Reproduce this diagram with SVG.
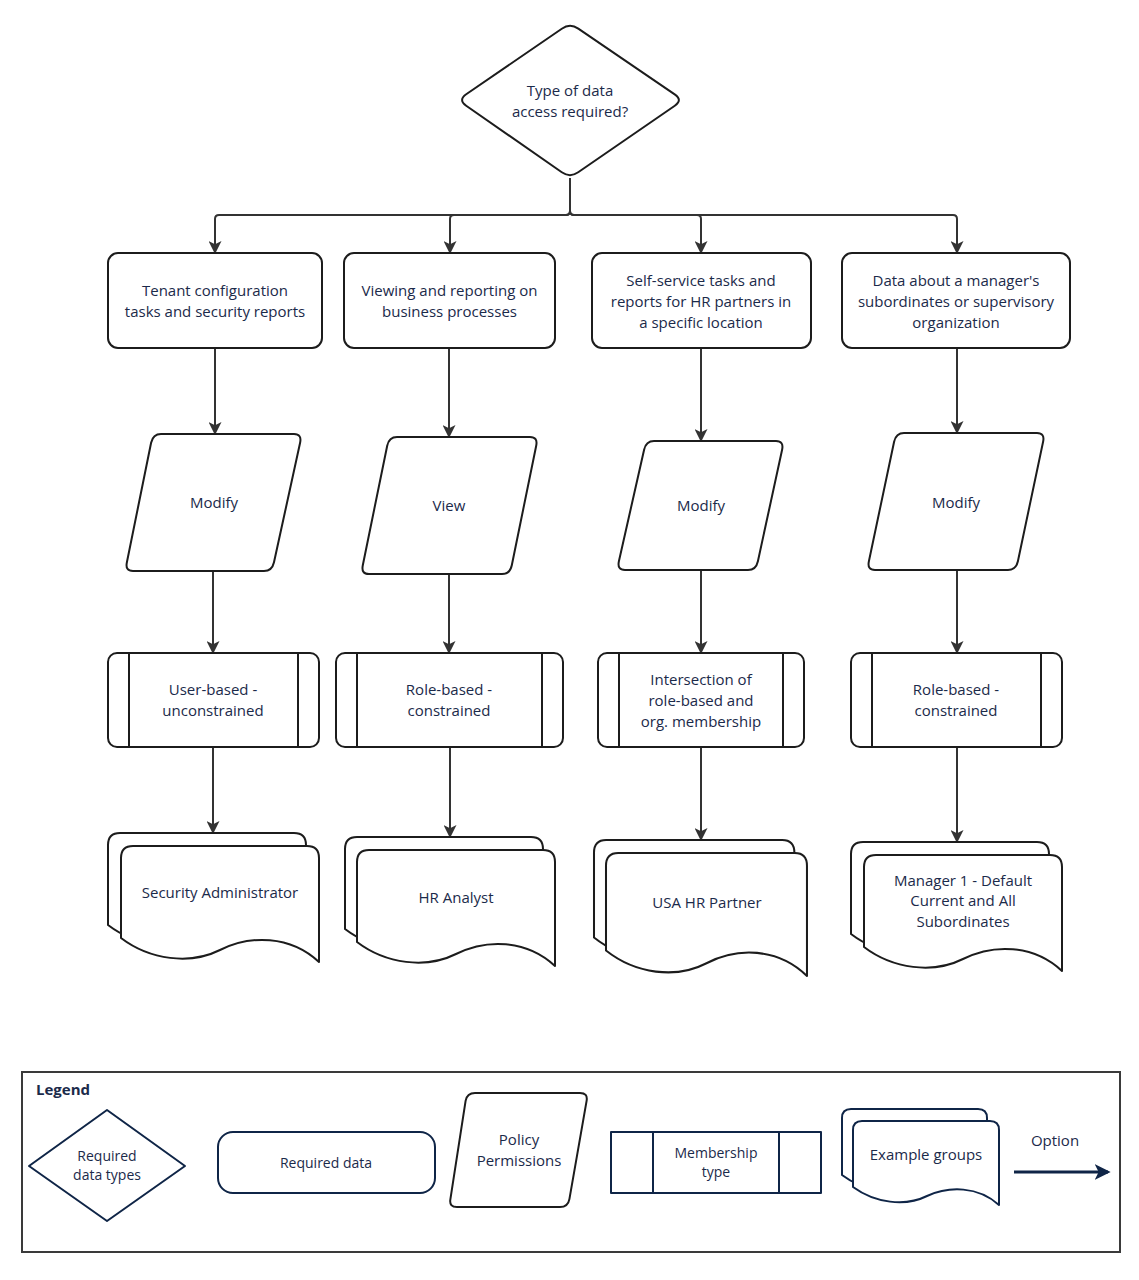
<svg xmlns="http://www.w3.org/2000/svg" width="1139" height="1280" viewBox="0 0 1139 1280">
<style>
.s{fill:#fff;stroke:#1c1c1c;stroke-width:2;stroke-linejoin:round}
.n{fill:#fff;stroke:#0f2547;stroke-width:2;stroke-linejoin:round}
.t{font-family:"Open Sans","Liberation Sans",sans-serif;font-size:15px;fill:#1b2a4a;text-anchor:middle}
.l{font-size:14px}
.c{fill:none;stroke:#333;stroke-width:2}
</style>
<defs>
<marker id="ah" viewBox="0 0 12 12" refX="11" refY="6" markerWidth="13" markerHeight="13" markerUnits="userSpaceOnUse" orient="auto"><path d="M0,0 L12,6 L0,12 L3,6 Z" fill="#333"/></marker>
<marker id="ahn" viewBox="0 0 12 12" refX="10" refY="6" markerWidth="16" markerHeight="16" markerUnits="userSpaceOnUse" orient="auto"><path d="M0,0 L12,6 L0,12 L3,6 Z" fill="#0f2547"/></marker>
<path id="doc" d="M0,92 V12 Q0,0 12,0 H186 Q198,0 198,12 V116 C169,89 129,89 99,104 C69,119 29,114 0,92 Z"/>
</defs>
<rect width="1139" height="1280" fill="#fff"/>

<g id="connectors">
<path class="c" d="M570,178 V211 Q570,215 566,215 H219 Q215,215 215,219 V253" marker-end="url(#ah)"/>
<path class="c" d="M570,178 V211 Q570,215 566,215 H454 Q450,215 450,219 V253" marker-end="url(#ah)"/>
<path class="c" d="M570,178 V211 Q570,215 574,215 H697 Q701,215 701,219 V253" marker-end="url(#ah)"/>
<path class="c" d="M570,178 V211 Q570,215 574,215 H953 Q957,215 957,219 V253" marker-end="url(#ah)"/>
<path class="c" d="M215,348 V434" marker-end="url(#ah)"/>
<path class="c" d="M449,348 V437" marker-end="url(#ah)"/>
<path class="c" d="M701,348 V441" marker-end="url(#ah)"/>
<path class="c" d="M957,348 V433" marker-end="url(#ah)"/>
<path class="c" d="M213,571 V653" marker-end="url(#ah)"/>
<path class="c" d="M449,574 V653" marker-end="url(#ah)"/>
<path class="c" d="M701,570 V653" marker-end="url(#ah)"/>
<path class="c" d="M957,570 V653" marker-end="url(#ah)"/>
<path class="c" d="M213,747 V833" marker-end="url(#ah)"/>
<path class="c" d="M450,747 V837" marker-end="url(#ah)"/>
<path class="c" d="M701,747 V840" marker-end="url(#ah)"/>
<path class="c" d="M957,747 V842" marker-end="url(#ah)"/>
</g>

<g id="decision">
<path class="s" d="M561.8,28.7 Q570,23 578.3,28.6 L674.7,94.4 Q683,100 674.8,105.7 L578.2,172.3 Q570,178 561.8,172.3 L466.2,105.7 Q458,100 466.2,94.3 Z"/>
<text class="t" x="570" y="96">Type of data</text>
<text class="t" x="570" y="117">access required?</text>
</g>

<g id="data1"><rect class="s" x="108" y="253" width="214" height="95" rx="10"/>
<text class="t" x="215" y="296">Tenant configuration</text><text class="t" x="215" y="317">tasks and security reports</text></g>
<g id="data2"><rect class="s" x="344" y="253" width="211" height="95" rx="10"/>
<text class="t" x="449.5" y="296">Viewing and reporting on</text><text class="t" x="449.5" y="317">business processes</text></g>
<g id="data3"><rect class="s" x="592" y="253" width="219" height="95" rx="10"/>
<text class="t" x="701" y="286">Self-service tasks and</text><text class="t" x="701" y="307">reports for HR partners in</text><text class="t" x="701" y="328">a specific location</text></g>
<g id="data4"><rect class="s" x="842" y="253" width="228" height="95" rx="10"/>
<text class="t" x="956" y="286">Data about a manager's</text><text class="t" x="956" y="307">subordinates or supervisory</text><text class="t" x="956" y="328">organization</text></g>

<g id="perm1"><path class="s" d="M161,434 H294 Q302,434 300.1,442.8 L274,562.2 Q272,571 264,571 H133 Q125,571 126.9,562.2 L151.1,442.8 Q153,434 161,434 Z"/>
<text class="t" x="214" y="508">Modify</text></g>
<g id="perm2"><path class="s" d="M397,437 H530 Q538,437 536.2,445.8 L511.8,565.2 Q510,574 502,574 H369 Q361,574 362.8,565.2 L387.2,445.8 Q389,437 397,437 Z"/>
<text class="t" x="449" y="511">View</text></g>
<g id="perm3"><path class="s" d="M654,441 H776 Q784,441 782.1,449.8 L757.9,561.2 Q756,570 748,570 H625 Q617,570 618.9,561.2 L644.1,449.8 Q646,441 654,441 Z"/>
<text class="t" x="701" y="511">Modify</text></g>
<g id="perm4"><path class="s" d="M904,433 H1037 Q1045,433 1043.1,441.8 L1017.9,561.2 Q1016,570 1008,570 H875 Q867,570 868.9,561.2 L894.1,441.8 Q896,433 904,433 Z"/>
<text class="t" x="956" y="508">Modify</text></g>

<g id="member1"><rect class="s" x="108" y="653" width="211" height="94" rx="9"/><path class="s" d="M129,653 V747 M298,653 V747"/>
<text class="t" x="213" y="695">User-based -</text><text class="t" x="213" y="716">unconstrained</text></g>
<g id="member2"><rect class="s" x="336" y="653" width="227" height="94" rx="9"/><path class="s" d="M357,653 V747 M542,653 V747"/>
<text class="t" x="449" y="695">Role-based -</text><text class="t" x="449" y="716">constrained</text></g>
<g id="member3"><rect class="s" x="598" y="653" width="206" height="94" rx="9"/><path class="s" d="M619,653 V747 M783,653 V747"/>
<text class="t" x="701" y="685">Intersection of</text><text class="t" x="701" y="706">role-based and</text><text class="t" x="701" y="727">org. membership</text></g>
<g id="member4"><rect class="s" x="851" y="653" width="211" height="94" rx="9"/><path class="s" d="M872,653 V747 M1041,653 V747"/>
<text class="t" x="956" y="695">Role-based -</text><text class="t" x="956" y="716">constrained</text></g>

<g id="group1"><use href="#doc" class="s" transform="translate(108,833)"/><use href="#doc" class="s" transform="translate(121,846)"/>
<text class="t" x="220" y="898">Security Administrator</text></g>
<g id="group2"><use href="#doc" class="s" transform="translate(345,837)"/><use href="#doc" class="s" transform="translate(357,850)"/>
<text class="t" x="456" y="903">HR Analyst</text></g>
<g id="group3"><use href="#doc" class="s" transform="translate(594,840) scale(1.012,1.06)"/><use href="#doc" class="s" transform="translate(606,853) scale(1.015,1.06)"/>
<text class="t" x="707" y="908">USA HR Partner</text></g>
<g id="group4"><use href="#doc" class="s" transform="translate(851,842)"/><use href="#doc" class="s" transform="translate(864,855)"/>
<text class="t" x="963" y="886">Manager 1 - Default</text><text class="t" x="963" y="906">Current and All</text><text class="t" x="963" y="927">Subordinates</text></g>

<g id="legend">
<rect x="22" y="1072" width="1098" height="180" fill="#fff" stroke="#3a3a3a" stroke-width="2"/>
<text class="t" x="36" y="1095" style="font-weight:bold;text-anchor:start">Legend</text>
<path class="n" d="M29,1166 L107,1110 L185,1166 L107,1221 Z"/>
<text class="t l" x="107" y="1161">Required</text><text class="t l" x="107" y="1180">data types</text>
<rect class="n" x="218" y="1132" width="217" height="61" rx="15"/>
<text class="t l" x="326" y="1168">Required data</text>
<path class="s" d="M475,1093 H580 Q588,1093 586.6,1100.9 L569.4,1199.1 Q568,1207 560,1207 H457 Q449,1207 450.4,1199.1 L465.6,1100.9 Q467,1093 475,1093 Z"/>
<text class="t" x="519" y="1145">Policy</text><text class="t" x="519" y="1166">Permissions</text>
<rect class="n" x="611" y="1132" width="210" height="61"/><path class="n" d="M653,1132 V1193 M779,1132 V1193"/>
<text class="t l" x="716" y="1158">Membership</text><text class="t l" x="716" y="1177">type</text>
<path class="n" d="M842,1175 V1118 Q842,1109 851,1109 H978 Q987,1109 987,1118 V1193 C966,1174 937,1174 915,1184 C893,1195 863,1191 842,1175 Z"/>
<path class="n" d="M853,1187 V1130 Q853,1121 862,1121 H990 Q999,1121 999,1130 V1205 C978,1186 949,1186 927,1196 C905,1207 875,1203 853,1187 Z"/>
<text class="t" x="926" y="1160">Example groups</text>
<text class="t" x="1055" y="1146">Option</text>
<path d="M1014,1172 H1108" stroke="#0f2547" stroke-width="3" fill="none" marker-end="url(#ahn)"/>
</g>
</svg>
